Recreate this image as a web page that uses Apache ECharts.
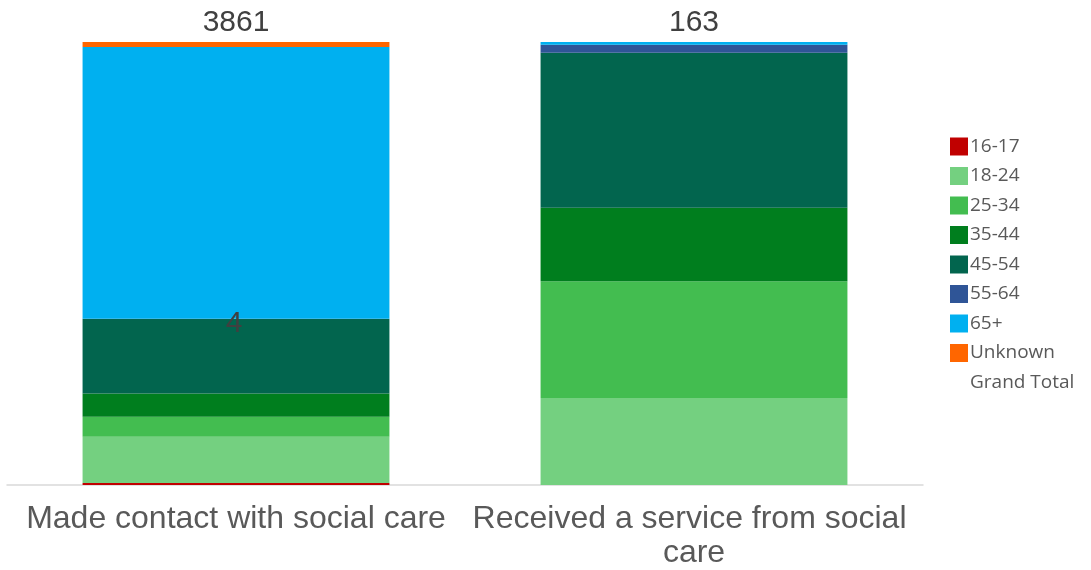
<!DOCTYPE html>
<html>
<head>
<meta charset="utf-8">
<script src="https://cdn.jsdelivr.net/npm/echarts@6/dist/echarts.min.js"></script>
<style>
  html, body { margin: 0; padding: 0; background: #ffffff; }
  #chart { width: 1091px; height: 570px; }
</style>
</head>
<body>
<div id="chart"></div>
<script>
// Categories along the x axis
const categories = ['Made contact with social care', 'Received a service from social care'];

// Counts per age band, one value per category
const ageBands = ['16-17', '18-24', '25-34', '35-44', '45-54', '55-64', '65+', 'Unknown'];
const v16_17   = [17, 0];
const v18_24   = [403, 32];
const v25_34   = [174, 43];
const v35_44   = [204, 27];
const v45_54   = [648, 57];
const v55_64   = [4, 3];
const v65plus  = [2367, 1];
const vUnknown = [44, 0];

const bandValues = [v16_17, v18_24, v25_34, v35_44, v45_54, v55_64, v65plus, vUnknown];
const bandColors = ['#C00000', '#74D080', '#43BD50', '#007E1E', '#02654E', '#2F5597', '#00B0F0', '#FF6600'];

// Grand totals per category
const totals = categories.map((_, i) => bandValues.reduce((s, arr) => s + arr[i], 0));

// Each band shown as a share of its category's total (100% stacked)
const series = ageBands.map((name, k) => ({
  name: name,
  type: 'bar',
  stack: 'all',
  barCategoryGap: '33%',
  itemStyle: { color: bandColors[k] },
  data: bandValues[k].map((v, i) => {
    const item = { value: totals[i] ? v / totals[i] * 100 : 0 };
    // the 55-64 count in the first category carries its own label
    if (name === '55-64' && i === 0) {
      item.label = {
        show: true, position: 'inside', formatter: String(v),
        fontSize: 30, color: '#404040', fontFamily: 'Liberation Sans', offset: [-2, 5]
      };
    }
    return item;
  })
}));

// Grand Total: zero-height cap on each stack, labelled with the total count
series.push({
  name: 'Grand Total',
  type: 'bar',
  stack: 'all',
  itemStyle: { color: 'rgba(0,0,0,0)' },
  data: totals.map(() => 0),
  label: {
    show: true, position: 'top', distance: 4,
    formatter: p => String(totals[p.dataIndex]),
    fontSize: 30, color: '#404040', fontFamily: 'Liberation Sans'
  }
});

const chart = echarts.init(document.getElementById('chart'));
chart.setOption({
  animation: false,
  grid: { left: 7, right: 168, top: 42, bottom: 85, containLabel: false },
  legend: {
    orient: 'vertical',
    left: 945,
    top: 132,
    itemWidth: 18,
    itemHeight: 18,
    itemGap: 10.5,
    textStyle: {
      fontSize: 19, lineHeight: 18, color: '#595959', fontFamily: 'Open Sans',
      padding: [0, 0, 0, -3]
    },
    data: ageBands.map(n => ({ name: n, icon: 'rect' })).concat([
      { name: 'Grand Total', icon: 'rect', itemStyle: { color: 'rgba(0,0,0,0)' } }
    ])
  },
  xAxis: {
    type: 'category',
    data: categories,
    axisLine: { lineStyle: { color: '#d9d9d9', width: 1.5 } },
    axisTick: { show: false },
    axisLabel: {
      color: '#595959', fontSize: 32, fontFamily: 'Liberation Sans',
      margin: 17, lineHeight: 34, width: 445, overflow: 'break', interval: 0
    }
  },
  yAxis: {
    type: 'value', min: 0, max: 100, show: false,
    splitLine: { show: false }
  },
  series: series
});
</script>
</body>
</html>
